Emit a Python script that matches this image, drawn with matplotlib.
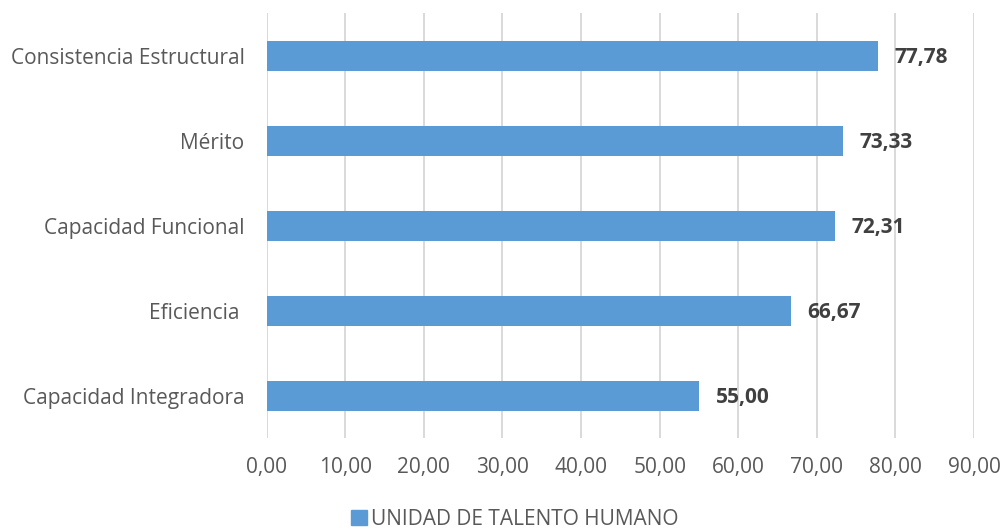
import matplotlib
matplotlib.use("Agg")
import matplotlib.pyplot as plt
from matplotlib.patches import Patch

categories = ["Capacidad Integradora", "Eficiencia ", "Capacidad Funcional",
              "Mérito", "Consistencia Estructural"]
values = [55.00, 66.67, 72.31, 73.33, 77.78]
series_name = "UNIDAD DE TALENTO HUMANO"
xticks = [0, 10, 20, 30, 40, 50, 60, 70, 80, 90]

BAR = "#5B9BD5"
GRID = "#D9D9D9"
TEXT = "#595959"
LABEL = "#404040"

plt.rcParams["font.family"] = ["Open Sans", "DejaVu Sans"]

fig = plt.figure(figsize=(10.03, 5.31), dpi=100)
ax = fig.add_axes([0.2659, 0.1742, 0.7052, 0.8004])

y = list(range(len(categories)))
ax.barh(y, values, height=0.353, color=BAR, zorder=3)

for yi, v in zip(y, values):
    ax.annotate(f"{v:.2f}".replace(".", ","), xy=(v, yi), xytext=(12, -1),
                textcoords="offset points", va="center", ha="left",
                fontsize=15, fontweight="bold", color=LABEL)

ax.set_xlim(0, 90)
ax.set_ylim(-0.5, len(categories) - 0.5)
ax.set_xticks(xticks)
ax.set_xticklabels([f"{t:.2f}".replace(".", ",") for t in xticks])
ax.set_yticks(y)
ax.set_yticklabels(categories)
ax.tick_params(axis="both", length=0, labelsize=15, labelcolor=TEXT)
ax.tick_params(axis="y", pad=16)
ax.tick_params(axis="x", pad=13)
ax.xaxis.grid(True, color=GRID, linewidth=1.4, zorder=0)
ax.yaxis.grid(False)
for s in ax.spines.values():
    s.set_visible(False)

fig.legend(handles=[Patch(color=BAR, label=series_name)], loc="center",
           bbox_to_anchor=(0.513, 0.022), frameon=False, fontsize=15,
           labelcolor=TEXT, handlelength=0.75, handleheight=0.75,
           handletextpad=0.2)

fig.savefig("out.png", dpi=100, facecolor="white")
